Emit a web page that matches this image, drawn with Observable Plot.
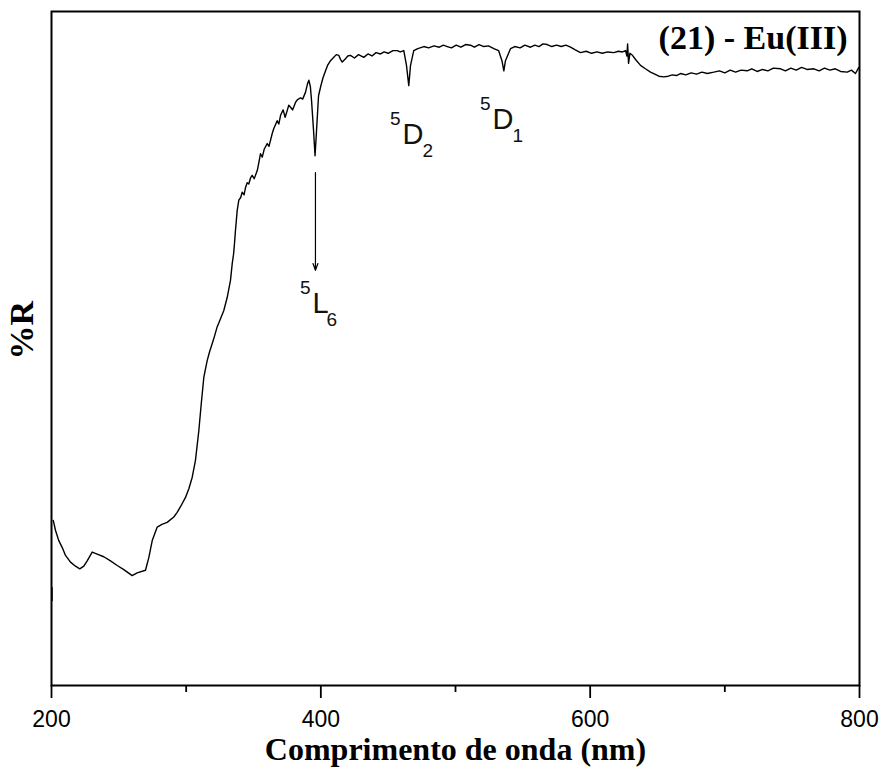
<!DOCTYPE html>
<html>
<head>
<meta charset="utf-8">
<script src="https://cdn.jsdelivr.net/npm/d3@7"></script>
<script src="https://cdn.jsdelivr.net/npm/@observablehq/plot@0.6"></script>
<style>
  html, body { margin: 0; padding: 0; background: #fff; }
  #chart { width: 883px; height: 774px; }
</style>
</head>
<body>
<div id="chart"></div>
<script>
// Wavelength (nm) and reflectance (%R, arbitrary scale 0–100)
const wavelength = [
  201.3, 203, 205.4, 207.9, 210.4, 214.1, 217.8, 221, 224, 226.5,
  230.2, 233.9, 238.8, 243.8, 248.8, 253.7, 259.9, 263.6, 269.8, 272.3,
  274.8, 278.5, 282, 285.9, 290.8, 293.3, 296, 299.5, 302, 304.5,
  306.9, 309.4, 311.2, 313.1, 315.6, 317.5, 319.3, 321, 323, 325.5,
  327.9, 330.5, 332.9, 334.2, 335.2, 335.9, 336.6, 337.9, 339.1, 340.5,
  341.6, 343, 344.1, 345.3, 346.5, 347.8, 349, 350.5, 352.8, 354,
  355.2, 356.5, 358, 360.2, 361.5, 363.9, 365, 367.6, 368.8, 370.1,
  372, 373.5, 375, 376.2, 377.5, 379, 381.2, 382.5, 384.9, 386.5,
  388.6, 390, 391.1, 392.2, 393.1, 394.6, 395.7, 396.8, 398.3, 399.8,
  401.5, 403.5, 405, 407.2, 409.6, 411.5, 413.3, 414.6, 415.9, 418.3,
  420, 422, 425, 428, 431.9, 435, 438, 441, 444.3, 447,
  450, 453.5, 456.7, 459, 461.6, 463.6, 465.3, 466.6, 469, 472,
  476.5, 480, 484, 488, 491, 493.9, 497, 500.5, 504, 507.5,
  511.1, 514, 517.5, 521, 524.5, 528.5, 532, 534.5, 535.9, 537.1,
  540.9, 544, 548, 551.5, 555.7, 559, 562, 565, 568.1, 571.5,
  575, 578.5, 582, 585.4, 589, 592.8, 597, 601, 605, 609,
  613, 617.6, 621, 624, 626.3, 627.3, 627.8, 628.5, 629.5, 631.4,
  634, 637.4, 641, 644.8, 648, 651, 654.7, 658, 661, 664,
  667.1, 671, 675, 679, 683, 687, 691.8, 696, 700, 704,
  708, 712, 716.6, 720, 724, 728, 732, 736, 741.4, 745,
  749, 753, 757, 761, 766.1, 770, 774, 778, 782, 786,
  790.9, 794, 797, 799.5
];
const reflectance = [
  24.5, 23.0, 21.5, 20.5, 19.3, 18.3, 17.7, 17.3, 17.7, 18.5,
  19.8, 19.5, 19.1, 18.5, 17.8, 17.2, 16.3, 16.7, 17.1, 19.0,
  21.5, 23.5, 23.9, 24.2, 25.0, 25.7, 26.6, 27.9, 29.2, 30.9,
  33.4, 37.8, 41.8, 45.7, 48.2, 49.6, 50.7, 51.8, 53.2, 54.4,
  55.6, 57.6, 60.1, 62.6, 64.0, 65.6, 67.5, 70.5, 72.0, 72.4,
  73.2, 72.8, 73.9, 74.6, 74.4, 75.3, 75.7, 75.2, 76.4, 77.6,
  78.9, 78.4, 79.6, 80.4, 80.0, 81.9, 82.6, 83.8, 83.3, 84.6,
  85.4, 84.3, 85.3, 86.1, 85.8, 85.4, 86.5, 86.9, 87.2, 87.0,
  88.0, 89.2, 89.8, 88.9, 86.8, 82.3, 78.6, 82.3, 87.5, 88.8,
  90.1, 91.2, 92.0, 92.7, 93.2, 93.6, 93.5, 92.9, 92.5, 93.0,
  93.4, 93.5, 93.1, 93.6, 93.2, 93.7, 93.4, 93.9, 93.7, 94.0,
  93.8, 94.2, 94.2, 94.0, 94.2, 92.0, 89.0, 92.0, 94.2, 94.5,
  94.8, 94.6, 94.9, 94.7, 95.0, 94.8, 94.6, 95.0, 94.7, 95.1,
  95.0, 94.7, 95.1, 94.8, 94.9, 94.5, 94.2, 92.7, 91.2, 92.7,
  94.5, 94.8, 94.6, 95.0, 94.7, 95.0, 94.8, 95.2, 95.1, 94.8,
  95.0, 94.8, 95.0, 94.7, 94.3, 93.9, 94.1, 93.8, 94.0, 93.8,
  94.0, 93.9, 94.1, 94.0, 94.2, 93.4, 95.2, 92.3, 93.8, 93.5,
  92.8, 92.0, 91.5, 91.0, 90.7, 90.4, 90.3, 90.4, 90.6, 90.5,
  90.8, 90.6, 90.9, 90.7, 91.0, 90.8, 91.0, 91.2, 90.9, 91.3,
  91.0, 91.3, 91.2, 91.5, 91.1, 91.4, 91.2, 91.6, 91.5, 91.2,
  91.6, 91.3, 91.7, 91.4, 91.5, 91.2, 91.6, 91.3, 91.5, 91.1,
  91.0, 91.3, 90.8, 91.7
];
// small detached segment at the left edge
const edgeWavelength = [200.4, 200.4];
const edgeReflectance = [14.5, 12.6];

// x-axis ticks
const majorTicks = [200, 400, 600, 800];
const minorTicks = [300, 500, 700];

// band labels: term symbol parts and anchor (wavelength, %R)
const bandLetter = ["L", "D", "D"];
const bandSup = ["5", "5", "5"];
const bandSub = ["6", "2", "1"];
const bandWl = [393.8, 460.7, 527.5];
const bandR = [55.3, 80.4, 82.6];

// arrow pointing to 5L6 band
const arrowWl = [396];
const arrowFrom = [76.1];
const arrowTo = [61.6];

const title = "(21) - Eu(III)";
const xLabel = "Comprimento de onda (nm)";
const yLabel = "%R";

const spectrum = wavelength.map((w, i) => ({w, r: reflectance[i]}));
const edge = edgeWavelength.map((w, i) => ({w, r: edgeReflectance[i]}));
const bands = bandLetter.map((l, i) => ({l, sup: bandSup[i], sub: bandSub[i], w: bandWl[i], r: bandR[i]}));
const arrows = arrowWl.map((w, i) => ({w, r1: arrowFrom[i], r2: arrowTo[i]}));
const bandsL = bands.filter(d => d.l === "L");
const bandsD = bands.filter(d => d.l === "D");

const serif = "'Liberation Serif', 'Times New Roman', serif";
const sans = "'Liberation Sans', Arial, sans-serif";
const labelStyle = {x: "w", y: "r", lineAnchor: "bottom", fontFamily: sans, fill: "#111"};

const chart = Plot.plot({
  width: 883,
  height: 774,
  marginLeft: 51,
  marginRight: 24,
  marginTop: 11,
  marginBottom: 89,
  style: {fontFamily: sans, color: "black", background: "white"},
  x: {domain: [200, 800]},
  y: {domain: [0, 100], axis: null},
  marks: [
    Plot.axisX({ticks: majorTicks, tickSize: 13, tickPadding: 12, fontSize: 23, strokeWidth: 1.8, label: null, tickFormat: d => String(d)}),
    Plot.axisX({ticks: minorTicks, tickSize: 7, strokeWidth: 1.8, label: null, tickFormat: () => ""}),
    Plot.frame({stroke: "black", strokeWidth: 2}),
    Plot.line(spectrum, {x: "w", y: "r", stroke: "black", strokeWidth: 1.4}),
    Plot.line(edge, {x: "w", y: "r", stroke: "black", strokeWidth: 1.4}),
    Plot.arrow(arrows, {x1: "w", y1: "r1", x2: "w", y2: "r2", stroke: "black", strokeWidth: 1.2, headLength: 9, headAngle: 40}),
    Plot.text(bands, {...labelStyle, text: "l", textAnchor: "start", fontSize: 29}),
    Plot.text(bands, {...labelStyle, text: "sup", textAnchor: "end", dx: -2, dy: -19, fontSize: 19}),
    Plot.text(bandsL, {...labelStyle, text: "sub", textAnchor: "start", dx: 14, dy: 13, fontSize: 19}),
    Plot.text(bandsD, {...labelStyle, text: "sub", textAnchor: "start", dx: 20, dy: 13, fontSize: 19}),
    Plot.text([title], {frameAnchor: "top-right", textAnchor: "end", lineAnchor: "bottom", dx: -12, dy: 37, fontSize: 34, fontWeight: "bold", fontFamily: serif, fill: "black"}),
    Plot.text([xLabel], {frameAnchor: "bottom", lineAnchor: "bottom", dy: 74, fontSize: 32, fontWeight: "bold", fontFamily: serif, fill: "black"}),
    Plot.text([yLabel], {frameAnchor: "left", rotate: -90, dx: -29, dy: 11, fontSize: 34, fontWeight: "bold", fontFamily: serif, fill: "black"})
  ]
});
document.getElementById("chart").appendChild(chart);
</script>
</body>
</html>
